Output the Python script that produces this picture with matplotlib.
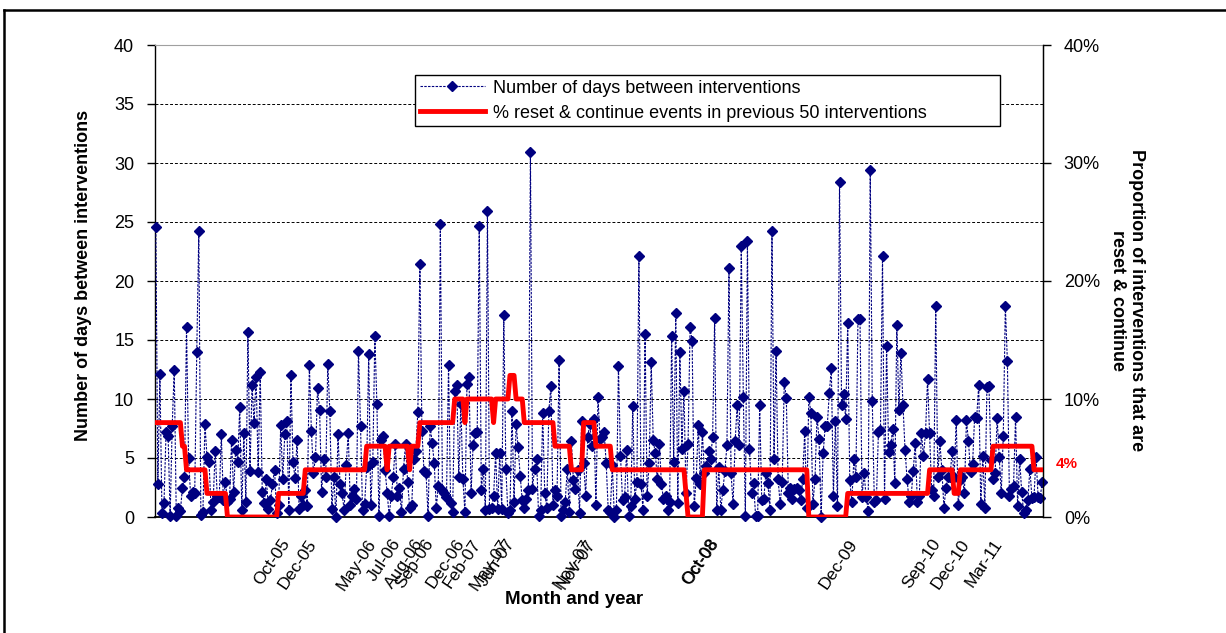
import matplotlib
matplotlib.use("Agg")
import matplotlib.pyplot as plt
import numpy as np
from matplotlib.lines import Line2D
from matplotlib.ticker import PercentFormatter, MultipleLocator

plt.rcParams['font.family'] = ['Liberation Sans', 'DejaVu Sans']

# Days elapsed between consecutive interventions, in order of occurrence
days_2005_06 = [24.6, 2.8, 12.1, 0.3, 1.2, 7.2, 6.9, 0.1, 7.7, 12.5, 0.05, 0.8, 0.5, 2.5, 3.4,
                16.1, 5.0, 1.8, 2.1, 2.0, 14.0, 24.2, 0.2, 0.4, 7.9, 5.1, 4.7, 0.6, 1.3, 5.6,
                1.8, 1.7, 7.0, 1.4, 3.0, 1.3, 1.5, 6.5, 2.1, 5.7, 4.7, 9.3, 0.6, 7.1, 1.3,
                15.7, 3.9, 11.2, 8.0, 11.9, 3.8, 12.3, 2.1, 1.2, 3.2,
                0.7, 1.4, 2.8, 4.0, 0.3, 1.0, 7.8, 3.2, 7.0, 8.1, 0.6, 12.0, 4.7, 3.3, 6.5,
                0.7, 1.8, 1.0, 2.3, 0.9, 12.9, 7.3, 3.7, 5.1, 10.9, 9.1, 2.1, 4.9, 3.4, 13.0,
                9.0, 0.7, 3.4, 0.0, 7.0, 2.8, 2.0, 0.6, 4.4, 7.1, 1.0, 1.8, 2.4, 1.5, 14.1,
                7.7, 0.6, 1.1, 4.2, 13.8, 1.0, 4.7, 15.3, 9.6, 0.05, 6.5]
days_2006_07 = [6.9, 4.0, 2.0, 0.1, 1.8, 3.4, 6.2, 1.8, 2.5, 0.4, 4.1, 6.2, 3.0, 0.8, 1.0,
                4.9, 5.6, 8.9, 21.4, 7.3, 3.9, 3.7, 0.1, 7.7, 6.3, 4.6, 0.8, 2.6, 24.8, 2.3,
                2.0, 1.7, 12.9, 1.2, 0.4, 10.7, 11.2, 3.4, 9.6, 3.2, 0.4, 11.3, 11.9, 2.0, 6.1,
                7.1, 7.2, 24.7, 2.3, 4.1, 0.6, 25.9, 0.7, 0.8, 1.8, 5.4,
                0.7, 5.4, 0.7, 17.1, 4.1, 0.3, 0.6, 9.0, 1.3, 7.9, 5.9, 3.5, 1.4, 0.8, 1.5,
                2.3, 30.9, 2.4, 4.1, 4.9, 0.1, 0.6, 8.8, 2.0, 0.8, 9.0, 11.1, 1.0, 2.3, 1.8,
                13.3, 0.1, 0.6, 1.3, 4.1, 0.4, 6.4, 3.1, 2.4, 4.0, 0.3, 8.1, 4.6, 1.8, 6.8,
                7.9, 6.0, 8.3, 1.0, 10.2, 6.6, 6.8, 7.2, 4.6, 0.6]
days_2008_09 = [0.4, 4.4, 0.0, 0.6, 12.8, 5.2, 1.4, 1.7, 5.7, 0.1, 0.9, 9.4, 1.5, 3.0, 22.1,
                2.8, 0.6, 15.5, 1.8, 4.6, 13.1, 6.5, 5.4, 3.2, 6.2, 2.8, 1.5, 1.8, 0.6, 1.3,
                15.3, 4.7, 17.3, 1.2, 14.0, 5.8, 10.7, 2.0, 6.2, 16.1, 14.9, 0.9, 3.3, 7.8, 2.8,
                7.2, 3.7, 4.3, 5.6, 4.9, 6.8, 16.9, 0.6, 4.2,
                0.6, 2.3, 3.9, 6.1, 21.1, 3.7, 1.1, 6.4, 9.5, 6.1, 23.0, 10.2, 0.05, 23.4, 5.8,
                2.0, 2.9, 0.1, 0.1, 9.5, 1.4, 1.5, 3.7, 2.9, 0.6, 24.2, 4.9, 14.1, 3.2, 1.1,
                3.0, 11.4, 10.1, 2.0, 2.5, 1.5, 2.4, 2.5, 2.3, 1.4, 3.2, 7.3, 0.8, 10.2, 8.8,
                1.1, 3.2, 8.5, 6.6, 0.0, 5.4, 7.7, 7.7, 10.5, 12.6, 1.8, 8.1]
days_2009_11 = [0.9, 28.4, 9.5, 10.4, 8.3, 16.4, 3.1, 1.3, 4.9, 3.4, 16.8, 16.8, 1.7, 3.7, 1.7,
                0.5, 29.4, 9.8, 1.3, 1.4, 7.2, 7.4, 22.1, 1.5, 14.5, 5.5, 6.1, 7.5, 2.9, 16.3,
                9.1, 13.9, 9.5, 5.7, 3.2, 1.3, 1.8, 3.9, 6.3, 1.3, 1.8, 7.1, 5.2, 7.1, 11.7,
                7.1, 2.3, 1.8, 17.9, 3.4, 6.4, 4.0, 0.8, 2.5, 3.4,
                3.4, 5.6, 3.4, 8.2, 1.0, 3.1, 3.4, 2.0, 8.2, 6.4, 3.8, 4.5, 8.5, 8.4, 11.2,
                1.1, 5.2, 0.8, 11.0, 11.1, 4.8, 3.2, 3.7, 8.4, 5.1, 2.0, 6.9, 17.9, 13.2, 1.8,
                2.4, 2.6, 8.5, 0.9, 4.9, 2.1, 0.3, 0.6, 1.4, 4.1, 1.6, 1.7, 5.1, 1.7, 1.6, 3.0]

# % of reset & continue events among the previous 50 interventions (run-length coded)
pct_levels = [8, 6, 4, 2, 0, 2, 4, 6, 4, 6, 4, 6, 8, 10, 8, 10, 8, 10, 12, 10, 8, 6, 4, 8, 6,
              4, 2, 0, 4, 0, 2, 4, 2, 4, 6, 4]
pct_runs = [13, 2, 10, 10, 25, 13, 30, 10, 1, 10, 1, 4, 17, 5, 1, 13, 1, 7, 3, 4, 15, 8, 6, 6, 8,
            36, 1, 8, 51, 19, 40, 12, 3, 16, 20, 5]

# Month labels and the intervention number at which they are marked
month_labels = ['Oct-05', 'Dec-05', 'May-06', 'Jul-06', 'Aug-06', 'Sep-06', 'Dec-06', 'Feb-07',
                'May-07', 'Jun-07', 'Nov-07', 'Nov-07', 'Oct-08', 'Oct-08', 'Dec-09', 'Sep-10',
                'Dec-10', 'Mar-11']
month_positions = [64, 77, 106, 118, 129, 134, 149, 157, 171, 174, 211, 213, 273, 273.5, 341,
                   382, 396, 412]

days = np.array(days_2005_06 + days_2006_07 + days_2008_09 + days_2009_11)
reset_share = np.repeat(pct_levels, pct_runs) / 100.0
n = len(days)
idx = np.arange(n)

NAVY = '#000080'
RED = '#FF0000'
W, H = 1226, 633

fig = plt.figure(figsize=(W / 100, H / 100), dpi=100)
ax = fig.add_axes([155 / W, 1 - 517 / H, (1043 - 155) / W, (517 - 45) / H])

days_line, = ax.plot(idx, days, color=NAVY, lw=0.8, ls=(0, (2.2, 1.2)), marker='D', ms=4.8,
                     mfc=NAVY, mec=NAVY, clip_on=False, zorder=3,
                     label='Number of days between interventions')
ax.set_xlim(-0.4, n - 0.6)
ax.set_ylim(0, 40)
ax.yaxis.set_major_locator(MultipleLocator(5))
ax.grid(axis='y', color='black', lw=0.7, ls=(0, (3, 2)))
ax.set_axisbelow(True)
ax.tick_params(axis='y', direction='out', length=6, width=1, pad=9, labelsize=13)
ax.set_xticks(month_positions)
ax.set_xticklabels(month_labels, rotation=56, ha='right', va='center',
                   rotation_mode='anchor', fontsize=12.5)
ax.tick_params(axis='x', length=0, pad=17)
ax.spines['top'].set_color('#A0A0A0')
ax.spines['top'].set_linewidth(0.8)
ax.spines['bottom'].set_linewidth(1.3)
ax.spines['left'].set_linewidth(1.0)

ax2 = ax.twinx()
reset_line, = ax2.plot(idx, reset_share, color=RED, lw=3.5, zorder=4,
                       label='% reset & continue events in previous 50 interventions')
ax2.set_ylim(0, 0.4)
ax2.yaxis.set_major_locator(MultipleLocator(0.1))
ax2.yaxis.set_major_formatter(PercentFormatter(1.0, decimals=0))
ax2.tick_params(axis='y', direction='out', length=6, width=1, pad=9, labelsize=13)
ax2.spines['right'].set_linewidth(1.0)
for s in ('top', 'left', 'bottom'):
    ax2.spines[s].set_visible(False)

ax2.annotate(f"{reset_share[-1]:.0%}", xy=(idx[-1], reset_share[-1]), xytext=(10, 4),
             textcoords='offset points', color=RED, fontweight='bold', fontsize=11,
             ha='left', va='center', annotation_clip=False)

leg = ax2.legend(handles=[days_line, reset_line], loc='upper left',
                 bbox_to_anchor=(0.2928, 0.9264, 0.6588, 0.01), mode='expand',
                 fontsize=13, frameon=True, fancybox=False, shadow=False,
                 borderpad=0.25, labelspacing=0.45, handlelength=3.6,
                 handletextpad=0.45, borderaxespad=0, numpoints=1)
leg.get_frame().set_edgecolor('black')
leg.get_frame().set_linewidth(1.0)
leg.get_frame().set_facecolor('white')
leg.get_frame().set_alpha(1)

fig.text(84 / W, 1 - 275 / H, 'Number of days between interventions', rotation=90,
         ha='center', va='center', fontweight='bold', fontsize=13)
fig.text(1127 / W, 1 - 300 / H, 'Proportion of interventions that are\nreset & continue',
         rotation=270, ha='center', va='center', fontweight='bold', fontsize=13,
         multialignment='center')
fig.text(574 / W, 1 - 600 / H, 'Month and year', ha='center', va='center',
         fontweight='bold', fontsize=13.5)

# outer frame of the figure panel
fig.add_artist(Line2D([4 / W, 1.0], [1 - 10 / H, 1 - 10 / H], transform=fig.transFigure,
                      color='black', lw=1.8))
fig.add_artist(Line2D([4 / W, 4 / W], [0.0, 1 - 10 / H], transform=fig.transFigure,
                      color='black', lw=1.8))

fig.savefig('out.png', dpi=100)
